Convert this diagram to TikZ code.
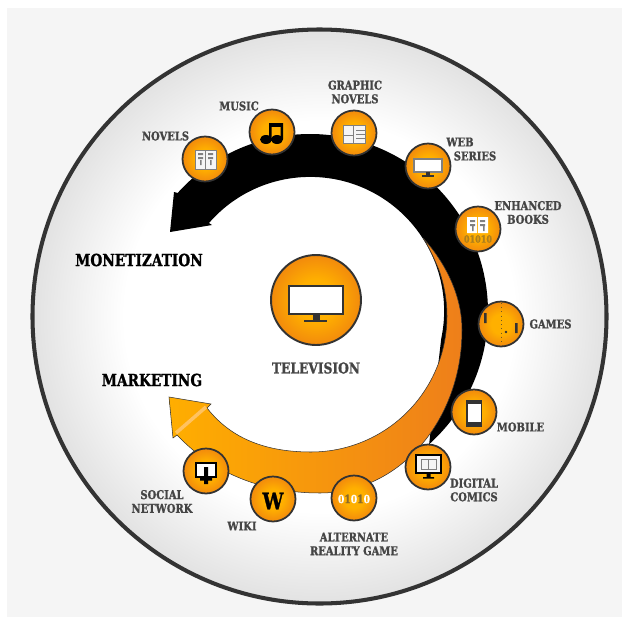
\documentclass[tikz,border=0pt]{standalone}
\usepackage{fontspec}
\usepackage{tikz}
\usetikzlibrary{calc}
\newfontfamily\slabfont[FakeStretch=0.82,FakeBold=1.2]{DejaVu Serif}
\definecolor{pagegrey}{HTML}{F5F5F5}
\definecolor{discedge}{HTML}{E2E2E2}
\definecolor{ringdark}{HTML}{333333}
\definecolor{ballmid}{HTML}{FFB000}
\definecolor{balledge}{HTML}{F28A0C}
\definecolor{bandgold}{HTML}{FFAE00}
\definecolor{banddeep}{HTML}{EE7F1A}
\definecolor{bandstripe}{HTML}{FFC260}
\definecolor{labelgrey}{HTML}{454545}
\definecolor{digitdim}{HTML}{8A6A2A}
\pgfdeclareradialshading{discshade}{\pgfpointorigin}{color(0bp)=(white); color(17bp)=(white); color(25bp)=(discedge); color(50bp)=(discedge)}
\pgfdeclareradialshading{ballshade}{\pgfpointorigin}{color(0bp)=(ballmid); color(11bp)=(ballmid); color(25bp)=(balledge); color(50bp)=(balledge)}
\tikzset{
  iconball/.style={circle,draw=ringdark,line width=1pt,inner sep=0pt,minimum size=0.9cm,shading=ballshade},
  tag/.style={font=\slabfont\bfseries\fontsize{6.9}{7.8}\selectfont,text=labelgrey,align=center,inner sep=0pt},
  headline/.style={font=\slabfont\bfseries\fontsize{9.5}{10}\selectfont,text=black,inner sep=0pt},
  paper/.style={fill=white,draw=ringdark,line width=0.4pt}
}
\begin{document}
\begin{tikzpicture}[x=0.02cm,y=-0.02cm]
  \useasboundingbox (0,0) rectangle (623,619);
  \fill [pagegrey] (7,8) rectangle (622,617);
  % backdrop disc
  \shade [shading=discshade] (319.5,316.5) circle (287);
  \draw [ringdark,line width=2.3pt] (319.5,316.5) circle (287);
  % black band
  \coordinate (bandc) at (310,312);
  \fill [black] (178,193) -- (174,192) -- (170,232) -- (212,225) -- (209,223)
    arc [start angle=221,end angle=372,radius=134]
    -- ($(bandc)+(408:178)$)
    arc [start angle=408,end angle=222,radius=178] -- cycle;
  % orange band
  \shade [left color=bandgold,middle color=bandgold,right color=banddeep,draw=ringdark,line width=0.3pt]
    (423,238) .. controls (445,262) and (462,295) .. (462,330)
    .. controls (462,420) and (400,493) .. (320,493)
    .. controls (265,493) and (215,475) .. (177,435)
    -- (173,438) -- (169,397) -- (211,404) -- (207,408)
    .. controls (232,440) and (268,452) .. (311,452)
    arc [start angle=90,end angle=-20,radius=136]
    .. controls (434,258) and (429,247) .. (423,238) -- cycle;
  \draw [bandstripe,line width=2pt] (176,433) -- (206,407);
  % balls
  \node [iconball,minimum size=1.8cm,line width=1.1pt] (television) at (316,300) {};
  \node [iconball] (novels) at (205,159) {};
  \node [iconball] (music) at (272,132) {};
  \node [iconball] (graphic) at (354,133) {};
  \node [iconball] (webseries) at (428,166) {};
  \node [iconball] (enhanced) at (478,229) {};
  \node [iconball] (games) at (501,324) {};
  \node [iconball] (mobile) at (474,412) {};
  \node [iconball] (comics) at (428,467) {};
  \node [iconball] (alternate) at (354,498) {};
  \node [iconball] (wiki) at (273,499) {};
  \node [iconball] (social) at (206,471) {};
  % television
  \draw [paper,line width=0.9pt] (289,286) rectangle (343,314);
  \fill [ringdark] (313,314) rectangle (320,320);
  \fill [ringdark] (304,319.5) rectangle (327,322);
  % novels
  \draw [paper,fill=pagegrey,draw=gray] (195,150) rectangle (216,169);
  \draw [gray,line width=0.3pt] (205.5,150) -- (205.5,169);
  \fill [gray] (198,153) rectangle (203,155) (198,157) rectangle (203,159) (200,160) rectangle (201.5,165)
    (208,153) rectangle (213,155) (208,157) rectangle (213,159) (210,160) rectangle (211.5,165);
  % music
  \fill [black] (269,123) rectangle (283,127);
  \fill [black] (269,123) rectangle (271.5,139) (280.5,123) rectangle (283,139);
  \fill [black] (266,139.5) ellipse (6 and 4.5) (277,139.5) ellipse (6 and 4.5);
  % graphic novels
  \draw [paper,fill=pagegrey,draw=gray] (343,125) rectangle (365,143);
  \draw [gray,line width=0.5pt] (353.5,125) -- (353.5,143) (343,135) -- (353.5,135)
    (356,130) -- (365,130) (356,134) -- (365,134) (356,138) -- (365,138);
  % web series
  \draw [paper,draw=gray,line width=0.6pt] (414,159) rectangle (442,172);
  \fill [ringdark] (426,172) rectangle (430,175);
  \fill [ringdark] (422,175) rectangle (434,176.5);
  % enhanced books
  \fill [white] (467,217) rectangle (477,233) (478,217) rectangle (488,233);
  \fill [gray] (470,220) rectangle (475,222) (470,224) rectangle (475,226) (472,226) rectangle (473.5,231)
    (480,220) rectangle (485,222) (480,224) rectangle (485,226) (483,226) rectangle (484.5,231);
  \node [font=\slabfont\bfseries\fontsize{5.6}{6}\selectfont,inner sep=0pt,text=digitdim!70!ballmid] (enhanceddigits) at (478,239) {01010};
  % games
  \draw [ringdark!70!ballmid,line width=0.4pt,dotted] (501,303) -- (501,345);
  \fill [ringdark] (484,313) rectangle (486.5,323) (515,323) rectangle (517.5,333);
  \fill [ringdark] (506,332) circle (1.3);
  % mobile
  \fill [ringdark] (466,400) rectangle (482,427);
  \fill [white] (467.5,403.5) rectangle (480.5,422);
  % digital comics
  \draw [paper,fill=pagegrey,draw=black,line width=0.8pt] (416,455) rectangle (441,473);
  \draw [gray,line width=0.4pt] (421,459) rectangle (436,469) (428.5,459) -- (428.5,469);
  \fill [black] (426.5,473) rectangle (430.5,477) (423,477) rectangle (434,478.5);
  % alternate reality game
  \node [font=\slabfont\bfseries\fontsize{6.4}{7}\selectfont,inner sep=0pt,text=white] (alternatedigits) at (354,499)
    {0{\color{digitdim}1}0{\color{digitdim}1}0};
  % wiki
  \node [font=\slabfont\bfseries\fontsize{13}{13}\selectfont,inner sep=0pt,text=black] (wikiW) at (273,501) {W};
  % social network
  \draw [paper,draw=black,line width=0.8pt] (196,463) rectangle (216,477);
  \fill [black] (204,467) rectangle (208,484) (200,478) rectangle (212,480.5);
  % labels
  \node [tag] (lblTelevision) at (316,368) {\fontsize{8.5}{8.5}\selectfont TELEVISION};
  \node [tag] (lblNovels) at (165.5,136) {NOVELS};
  \node [tag] (lblMusic) at (239,106) {MUSIC};
  \node [tag] (lblGraphic) at (355,92) {GRAPHIC\\NOVELS};
  \node [tag] (lblWeb) at (460,142) {WEB};
  \node [tag] (lblSeries) at (475,156) {SERIES};
  \node [tag] (lblEnhanced) at (528,212.5) {ENHANCED\\BOOKS};
  \node [tag] (lblGames) at (550.5,324) {GAMES};
  \node [tag] (lblMobile) at (520.5,427) {MOBILE};
  \node [tag] (lblComics) at (474,490) {DIGITAL\\COMICS};
  \node [tag] (lblAlternate) at (354,544) {ALTERNATE\\REALITY GAME};
  \node [tag] (lblWiki) at (242,526) {WIKI};
  \node [tag] (lblSocial) at (162,501.5) {SOCIAL\\NETWORK};
  \node [headline] (lblMonetization) at (139,260) {MONETIZATION};
  \node [headline] (lblMarketing) at (152,380) {MARKETING};
\end{tikzpicture}
\end{document}
